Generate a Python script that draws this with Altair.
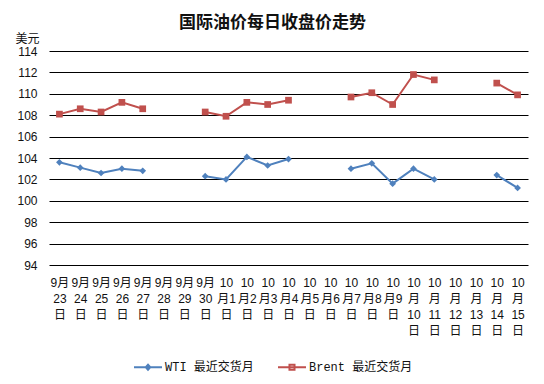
import altair as alt
import pandas as pd

dates = ["9月23日", "9月24日", "9月25日", "9月26日", "9月27日", "9月28日", "9月29日", "9月30日",
         "10月1日", "10月2日", "10月3日", "10月4日", "10月5日", "10月6日", "10月7日", "10月8日",
         "10月9日", "10月10日", "10月11日", "10月12日", "10月13日", "10月14日", "10月15日"]
wti = [103.6, 103.1, 102.6, 103.0, 102.8, None, None, 102.3,
       102.0, 104.1, 103.3, 103.9, None, None, 103.0, 103.5,
       101.6, 103.0, 102.0, None, None, 102.4, 101.2]
brent = [108.1, 108.6, 108.3, 109.2, 108.6, None, None, 108.3,
         107.9, 109.2, 109.0, 109.4, None, None, 109.7, 110.1,
         109.0, 111.8, 111.3, None, None, 111.0, 109.9]
series = ["WTI 最近交货月", "Brent 最近交货月"]
colors = ["#4F81BD", "#C0504D"]
y_ticks = [94, 96, 98, 100, 102, 104, 106, 108, 110, 112, 114]

rows = []
for name, vals in zip(series, [wti, brent]):
    for d, v in zip(dates, vals):
        rows.append({"date": d, "series": name, "value": v})
df = pd.DataFrame(rows)

M = "split(datum.label,'月')[0]"
D = "replace(split(datum.label,'月')[1],'日','')"
label_expr = (f"{M}=='9' ? ['9月', {D}, '日'] : "
              f"(length({D})==1 ? ['10', '月'+{D}, '日'] : ['10', '月', {D}, '日'])")

FONT = "Liberation Sans, Noto Sans CJK SC"

x_enc = alt.X("date:N", sort=dates, scale=alt.Scale(domain=dates),
              axis=alt.Axis(title=None, labelExpr=label_expr, labelAngle=0,
                            labelLineHeight=16, labelFontSize=12, labelFont=FONT,
                            labelColor="#111", labelPadding=12, labelBaseline="top",
                            ticks=False, domain=False, grid=False))
y_enc = alt.Y("value:Q", scale=alt.Scale(domain=[94, 114], nice=False, zero=False),
              axis=alt.Axis(values=y_ticks, title="美元", titleAngle=0, titleX=-34, titleY=-13,
                            titleAlign="left", titleBaseline="middle", titleFontSize=12,
                            titleFontWeight="normal", titleFont=FONT, titleColor="#111",
                            labelFontSize=12, labelFont=FONT, labelColor="#111", labelPadding=12,
                            ticks=False, domain=False, grid=True, gridColor="#000",
                            gridWidth=1, gridOpacity=1))
color_scale = alt.Scale(domain=series, range=colors)

base = alt.Chart(df).encode(x=x_enc, y=y_enc)

lines = base.mark_line(strokeWidth=2, invalid="break-paths-show-domains").encode(
    color=alt.Color("series:N", scale=color_scale, legend=None))

pts = base.mark_point(filled=True, opacity=1, size=45).encode(
    color=alt.Color("series:N", scale=color_scale, legend=None),
    shape=alt.Shape("series:N", scale=alt.Scale(domain=series, range=["diamond", "square"]),
                    legend=None))

wti_sym = "M-1,0H1M0,-0.18L0.16,0L0,0.18L-0.16,0Z"
brent_sym = "M-1,0H1M-0.18,-0.18H0.18V0.18H-0.18Z"

legend_def = alt.Legend(title=None, orient="none", direction="horizontal",
                        legendX=84, legendY=301, symbolSize=784,
                        symbolStrokeWidth=2, labelFontSize=12,
                        labelFont="Liberation Mono, Noto Sans CJK SC",
                        labelColor="#111", labelOffset=2, columnPadding=20)

leg = base.mark_point(filled=False, opacity=1, strokeWidth=2).encode(
    color=alt.Color("series:N", scale=color_scale, legend=legend_def),
    shape=alt.Shape("series:N", scale=alt.Scale(domain=series, range=[wti_sym, brent_sym]),
                    legend=legend_def)
).transform_filter("false")

chart = alt.layer(lines, pts, leg).resolve_scale(shape="independent").resolve_legend(
    color="independent", shape="independent").properties(
    width=479, height=214,
    padding={"left": 41, "top": 43, "right": 8, "bottom": 111},
    autosize=alt.AutoSizeParams(type="none"),
    title=alt.TitleParams("国际油价每日收盘价走势", fontSize=17, fontWeight="bold",
                          font="Noto Sans CJK SC", anchor="middle", dx=-16, offset=0,
                          color="#111"),
).configure_view(stroke=None)

chart.save("out.html", embed_options={"renderer": "svg", "actions": False})
